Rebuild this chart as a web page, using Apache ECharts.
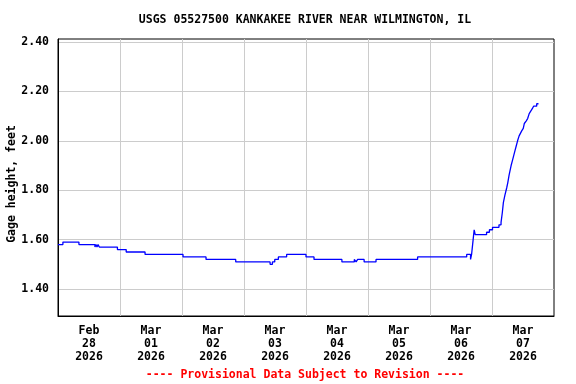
<!DOCTYPE html>
<html>
<head>
<meta charset="utf-8">
<script src="https://cdn.jsdelivr.net/npm/echarts@6/dist/echarts.min.js"></script>
<style>
html,body{margin:0;padding:0;background:#fff;}
#chart{width:576px;height:384px;}
</style>
</head>
<body>
<div id="chart"></div>
<script>
// Hours since 2026-02-28 00:00 and gage height (feet); value holds until next point
const hours = [0, 1.9, 8.1, 14.3, 14.7, 15.1, 15.5, 16.0, 23.0, 26.4, 33.7, 48.4, 57.3, 68.8,
  82.1, 83.0, 83.9, 85.3, 88.5, 96.0, 99.1, 109.9, 114.7, 115.4, 116.0, 118.5, 123.1,
  139.2, 158.2, 159.7, 160.1, 160.7, 161.1, 161.5, 165.9, 167.0, 168.2, 170.7,
  171.5, 172.0, 172.4, 173.0, 173.7, 174.1, 174.6, 175.0, 175.4, 175.9, 176.4, 176.9,
  177.4, 177.9, 178.5, 179.0, 179.5, 180.1, 180.5, 181.2, 181.8, 182.4, 183.0, 183.6,
  184.1, 185.3, 186.0];
const gage = [1.58, 1.59, 1.58, 1.57, 1.58, 1.57, 1.58, 1.57, 1.56, 1.55, 1.54, 1.53, 1.52, 1.51,
  1.50, 1.51, 1.52, 1.53, 1.54, 1.53, 1.52, 1.51, 1.52, 1.51, 1.52, 1.51, 1.52,
  1.53, 1.54, 1.52, 1.54, 1.60, 1.64, 1.62, 1.63, 1.64, 1.65, 1.66,
  1.67, 1.71, 1.75, 1.78, 1.81, 1.83, 1.86, 1.88, 1.90, 1.92, 1.94, 1.96,
  1.98, 2.00, 2.02, 2.03, 2.04, 2.05, 2.07, 2.08, 2.09, 2.11, 2.12, 2.13,
  2.14, 2.15, 2.15];
const dayBoundaryHours = [24, 48, 72, 96, 120, 144, 168];
const dayLabelHours = [12, 36, 60, 84, 108, 132, 156, 180];
const dayLabels = ['Feb\n28\n2026', 'Mar\n01\n2026', 'Mar\n02\n2026', 'Mar\n03\n2026',
  'Mar\n04\n2026', 'Mar\n05\n2026', 'Mar\n06\n2026', 'Mar\n07\n2026'];
const yTicks = [1.4, 1.6, 1.8, 2.0, 2.2, 2.4];
const titleText = 'USGS 05527500 KANKAKEE RIVER NEAR WILMINGTON, IL';
const yName = 'Gage height, feet';
const footer = '---- Provisional Data Subject to Revision ----';

const FONT = '"DejaVu Sans Mono", "Liberation Mono", monospace';
const chart = echarts.init(document.getElementById('chart'), null, {renderer: 'canvas'});
chart.setOption({
  animation: false,
  backgroundColor: '#fff',
  grid: {left: 58, right: 22, top: 39, bottom: 68, show: true, borderColor: '#000', borderWidth: 1, backgroundColor: 'transparent'},
  xAxis: {
    type: 'value', min: 0, max: 192,
    axisLine: {show: true, lineStyle: {color: '#000', width: 1}},
    axisTick: {show: false, customValues: dayBoundaryHours},
    splitLine: {show: true, lineStyle: {color: '#cccccc', width: 1}},
    axisLabel: {
      customValues: dayLabelHours,
      formatter: v => dayLabels[dayLabelHours.indexOf(Math.round(v))] || '',
      fontFamily: FONT, fontWeight: 'bold', fontSize: 11.5, color: '#000',
      lineHeight: 13, margin: 9
    }
  },
  yAxis: {
    type: 'value', min: 1.291, max: 2.412,
    axisLine: {show: true, lineStyle: {color: '#000', width: 1}},
    axisTick: {show: false, customValues: yTicks},
    splitLine: {show: true, lineStyle: {color: '#cccccc', width: 1}},
    axisLabel: {
      customValues: yTicks,
      formatter: v => v.toFixed(2),
      fontFamily: FONT, fontWeight: 'bold', fontSize: 11.5, color: '#000', margin: 9
    }
  },
  graphic: [
    {type: 'text', x: 305, y: 20, style: {text: titleText, fontFamily: FONT, fontWeight: 'bold', fontSize: 11.5, fill: '#000', align: 'center', verticalAlign: 'middle'}},
    {type: 'text', x: 12, y: 184, rotation: Math.PI / 2, style: {text: yName, fontFamily: FONT, fontWeight: 'bold', fontSize: 11.5, fill: '#000', align: 'center', verticalAlign: 'middle'}},
    {type: 'text', x: 305, y: 375, style: {text: footer, fontFamily: FONT, fontWeight: 'bold', fontSize: 11.5, fill: '#ff0000', align: 'center', verticalAlign: 'middle'}}
  ],
  series: [{
    type: 'line',
    step: 'end',
    data: hours.map((h, i) => [h, gage[i]]),
    showSymbol: false,
    symbol: 'none',
    lineStyle: {color: '#0000ff', width: 1.3},
    itemStyle: {color: '#0000ff'}
  }]
});
</script>
</body>
</html>
